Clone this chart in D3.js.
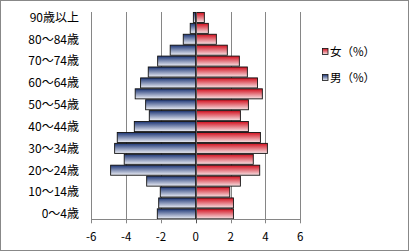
<!DOCTYPE html>
<html lang="ja">
<head>
<meta charset="UTF-8">
<title>人口ピラミッド</title>
<script src="https://d3js.org/d3.v7.min.js"></script>
<style>
    body { margin: 0; background: #fff; }
    text { font-family: "Noto Sans CJK JP", sans-serif; fill: #000; }
</style>
</head>
<body>
<svg width="410" height="252"></svg>
<script>
    // age groups, bottom to top
    const ages = ["0〜4歳", "5〜9歳", "10〜14歳", "15〜19歳", "20〜24歳", "25〜29歳",
        "30〜34歳", "35〜39歳", "40〜44歳", "45〜49歳", "50〜54歳", "55〜59歳",
        "60〜64歳", "65〜69歳", "70〜74歳", "75〜79歳", "80〜84歳", "85〜89歳", "90歳以上"];
    // 男（%）, drawn to the left
    const male = [2.21, 2.13, 2.04, 2.82, 4.89, 4.11, 4.66, 4.51, 3.53, 2.67,
        2.88, 3.48, 3.17, 2.73, 2.19, 1.47, 0.72, 0.32, 0.14];
    // 女（%）, drawn to the right
    const female = [2.16, 2.16, 1.95, 2.56, 3.67, 3.30, 4.11, 3.71, 3.02, 2.56,
        3.02, 3.82, 3.54, 2.96, 2.50, 1.81, 1.18, 0.72, 0.49];
    const xTicks = [-6, -4, -2, 0, 2, 4, 6];
    const legendNames = ["女（%）", "男（%）"];

    const svg = d3.select("svg");

    // frame
    svg.append("rect")
        .attr("x", 0.5).attr("y", 0.5)
        .attr("width", 408).attr("height", 250)
        .attr("fill", "#fff").attr("stroke", "#888");

    const defs = svg.append("defs");
    function grad(id, top, bottom) {
        const g = defs.append("linearGradient")
            .attr("id", id).attr("x1", 0).attr("y1", 0).attr("x2", 0).attr("y2", 1);
        g.append("stop").attr("offset", "0%").attr("stop-color", top);
        g.append("stop").attr("offset", "100%").attr("stop-color", bottom);
    }
    grad("gMale", "#1c3575", "#eef0f7");
    grad("gFemale", "#d20f1e", "#f7e4e6");

    const x = d3.scaleLinear().domain([-6, 6]).range([91.3, 300.3]);
    const y = d3.scaleBand().domain(ages).range([219.3, 12])
        .paddingInner(0.08).paddingOuter(0.04);
    const bottom = 219.3;

    // gridlines + ticks
    svg.append("g").selectAll("line")
        .data(xTicks.filter(d => d !== 0))
        .join("line")
        .attr("x1", d => Math.round(x(d)) + 0.5).attr("x2", d => Math.round(x(d)) + 0.5)
        .attr("y1", 12).attr("y2", bottom + 4)
        .attr("stroke", "#868686");

    // bars
    const bars = svg.append("g");
    bars.selectAll("rect.m")
        .data(ages)
        .join("rect")
        .attr("class", "m")
        .attr("x", (d, i) => x(-male[i]))
        .attr("y", d => y(d))
        .attr("width", (d, i) => x(0) - x(-male[i]))
        .attr("height", y.bandwidth())
        .attr("fill", "url(#gMale)")
        .attr("stroke", "#111").attr("stroke-width", 0.9);
    bars.selectAll("rect.f")
        .data(ages)
        .join("rect")
        .attr("class", "f")
        .attr("x", x(0))
        .attr("y", d => y(d))
        .attr("width", (d, i) => x(female[i]) - x(0))
        .attr("height", y.bandwidth())
        .attr("fill", "url(#gFemale)")
        .attr("stroke", "#111").attr("stroke-width", 0.9);

    // axes lines
    svg.append("line")
        .attr("x1", x(-6)).attr("x2", x(6))
        .attr("y1", Math.round(bottom) + 0.5).attr("y2", Math.round(bottom) + 0.5)
        .attr("stroke", "#868686");
    svg.append("line")
        .attr("x1", Math.round(x(0)) + 0.5).attr("x2", Math.round(x(0)) + 0.5)
        .attr("y1", 12).attr("y2", bottom + 4)
        .attr("stroke", "#555");

    // x tick labels
    svg.append("g").selectAll("text")
        .data(xTicks)
        .join("text")
        .attr("x", d => x(d))
        .attr("y", 241)
        .attr("text-anchor", "middle")
        .attr("font-size", 11.5)
        .text(d => d);

    // category labels, every other one
    svg.append("g").selectAll("text")
        .data(ages.filter((d, i) => i % 2 === 0))
        .join("text")
        .attr("x", 79)
        .attr("y", d => y(d) + y.bandwidth() / 2 + 4.3)
        .attr("text-anchor", "end")
        .attr("font-size", 12)
        .text(d => d);

    // legend
    const legend = svg.append("g").selectAll("g")
        .data(legendNames)
        .join("g")
        .attr("transform", (d, i) => `translate(322,${48 + i * 26})`);
    legend.append("rect")
        .attr("x", 0.5).attr("y", 0.5).attr("width", 5.5).attr("height", 6)
        .attr("fill", (d, i) => i === 0 ? "url(#gFemale)" : "url(#gMale)")
        .attr("stroke", "#111").attr("stroke-width", 0.8);
    legend.append("text")
        .attr("x", 8).attr("y", 8)
        .attr("font-size", 11.5)
        .text(d => d);
</script>
</body>
</html>
